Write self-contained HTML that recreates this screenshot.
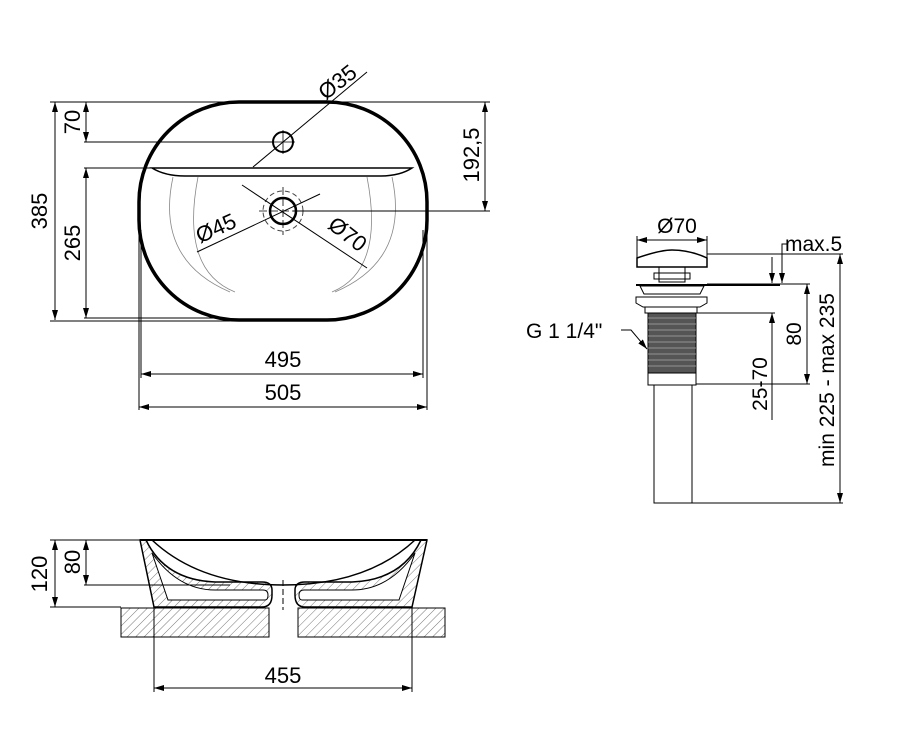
<!DOCTYPE html>
<html><head><meta charset="utf-8"><style>
html,body{margin:0;padding:0;background:#fff;}
svg{display:block;font-family:"Liberation Sans",sans-serif;}
</style></head><body>
<svg width="897" height="729" viewBox="0 0 897 729" xmlns="http://www.w3.org/2000/svg">
<defs>
<marker id="a" viewBox="0 0 10 6" refX="10" refY="3" markerWidth="10" markerHeight="6" orient="auto-start-reverse" markerUnits="userSpaceOnUse"><path d="M0,0 L10,3 L0,6 Z" fill="#000"/></marker>
<pattern id="h" width="6" height="6" patternUnits="userSpaceOnUse" patternTransform="rotate(45)"><line x1="0" y1="0" x2="0" y2="6" stroke="#555" stroke-width="0.8"/></pattern>
</defs>
<g fill="none" stroke="#000" stroke-width="1">
<rect x="139" y="102" width="288" height="218" rx="100" ry="100" stroke-width="3.5"/>
<path d="M152 168 L412 168 Q400 176 380 176 L185 176 Q165 176 152 168 Z" stroke-width="1.5"/>
<g stroke="#888" stroke-width="0.8">
<path d="M173 177 Q155 260 230 292"/><path d="M198 177 Q180 270 235 292"/>
<path d="M392 177 Q410 260 335 292"/><path d="M367 177 Q385 270 332 292"/>
</g>
<circle cx="283" cy="142" r="10" stroke-width="2"/>
<line x1="271" y1="142" x2="295" y2="142" stroke-width="0.8"/><line x1="283" y1="130" x2="283" y2="154" stroke-width="0.8"/>
<circle cx="283" cy="211" r="13" stroke-width="2.5"/>
<circle cx="283" cy="211" r="20" stroke-dasharray="5,3" stroke="#444"/>
<line x1="283" y1="187" x2="283" y2="235" stroke-dasharray="8,3" stroke-width="0.8"/>
<line x1="259" y1="211" x2="307" y2="211" stroke-dasharray="8,3" stroke-width="0.8"/>
<line x1="367" y1="72" x2="253" y2="167"/>
<line x1="320" y1="194" x2="197" y2="252"/>
<line x1="242" y1="185" x2="367" y2="268"/>
<line x1="50" y1="102" x2="490" y2="102"/>
<line x1="50" y1="321" x2="230" y2="321"/>
<line x1="84" y1="142" x2="273" y2="142"/>
<line x1="84" y1="168" x2="152" y2="168"/>
<line x1="84" y1="318" x2="225" y2="318"/>
<line x1="55" y1="102" x2="55" y2="320" marker-start="url(#a)" marker-end="url(#a)"/>
<line x1="86" y1="102" x2="86" y2="142" marker-start="url(#a)" marker-end="url(#a)"/>
<line x1="86" y1="168" x2="86" y2="318" marker-start="url(#a)" marker-end="url(#a)"/>
<line x1="293" y1="211" x2="490" y2="211"/>
<line x1="485" y1="102" x2="485" y2="211" marker-start="url(#a)" marker-end="url(#a)"/>
<line x1="139" y1="230" x2="139" y2="410"/><line x1="427" y1="230" x2="427" y2="410"/>
<line x1="141" y1="230" x2="141" y2="378"/><line x1="423" y1="230" x2="423" y2="378"/>
<line x1="141" y1="374" x2="423" y2="374" marker-start="url(#a)" marker-end="url(#a)"/>
<line x1="139" y1="407" x2="427" y2="407" marker-start="url(#a)" marker-end="url(#a)"/>
</g>
<g font-size="22" fill="#000">
<text x="283" y="367" text-anchor="middle">495</text>
<text x="283" y="400" text-anchor="middle">505</text>
<text transform="translate(47,211) rotate(-90)" text-anchor="middle">385</text>
<text transform="translate(80,122) rotate(-90)" text-anchor="middle">70</text>
<text transform="translate(80,243) rotate(-90)" text-anchor="middle">265</text>
<text transform="translate(479,155) rotate(-90)" text-anchor="middle">192,5</text>
<text transform="translate(342,88) rotate(-38)" text-anchor="middle">Ø35</text>
<text transform="translate(219,235) rotate(-24)" text-anchor="middle">Ø45</text>
<text transform="translate(343,240) rotate(38)" text-anchor="middle">Ø70</text>
</g>
<g fill="none" stroke="#000" stroke-width="1">
<path d="M637 267 L637 258 Q660 250 672 250 Q690 250 707 258 L707 267 Z" stroke-width="1.5"/>
<rect x="659" y="267" width="26" height="15"/>
<rect x="654" y="273" width="36" height="6"/>
<line x1="636" y1="285" x2="780" y2="285" stroke-width="2"/>
<path d="M640 286 L704 286 L700 294 L644 294 Z"/>
<path d="M636 297 L707 297 L707 303 L700 307 L643 307 L636 303 Z"/>
<rect x="645" y="307" width="52" height="6"/>
<rect x="648" y="313" width="48" height="60" fill="#555"/>
<g stroke="#aaa" stroke-width="0.8">
<line x1="648" y1="318" x2="696" y2="318"/><line x1="648" y1="324" x2="696" y2="324"/><line x1="648" y1="330" x2="696" y2="330"/><line x1="648" y1="336" x2="696" y2="336"/><line x1="648" y1="342" x2="696" y2="342"/><line x1="648" y1="348" x2="696" y2="348"/><line x1="648" y1="354" x2="696" y2="354"/><line x1="648" y1="360" x2="696" y2="360"/><line x1="648" y1="366" x2="696" y2="366"/>
</g>
<rect x="648" y="373" width="48" height="12"/>
<rect x="654" y="385" width="38" height="118"/>
<line x1="637" y1="240" x2="707" y2="240" marker-start="url(#a)" marker-end="url(#a)"/>
<line x1="637" y1="236" x2="637" y2="258"/><line x1="707" y1="236" x2="707" y2="258"/>
<line x1="707" y1="254" x2="843" y2="254"/>
<line x1="707" y1="284" x2="810" y2="284"/>
<line x1="696" y1="313" x2="775" y2="313"/>
<line x1="696" y1="384" x2="810" y2="384"/>
<line x1="692" y1="503" x2="843" y2="503"/>
<line x1="772" y1="257" x2="772" y2="283" marker-end="url(#a)"/>
<line x1="772" y1="313" x2="772" y2="420" marker-start="url(#a)"/>
<polyline points="787,244 782,244 782,283"/>
<line x1="782" y1="262" x2="782" y2="283" marker-end="url(#a)"/>
<line x1="807" y1="284" x2="807" y2="384" marker-start="url(#a)" marker-end="url(#a)"/>
<line x1="840" y1="254" x2="840" y2="503" marker-start="url(#a)" marker-end="url(#a)"/>
<polyline points="621,330 631,330 647,349" marker-end="url(#a)"/>
</g>
<g font-size="21" fill="#000">
<text x="677" y="233" text-anchor="middle">Ø70</text>
<text x="785" y="251">max.5</text>
<text x="526" y="338">G 1 1/4"</text>
<text transform="translate(801,334) rotate(-90)" text-anchor="middle">80</text>
<text transform="translate(767,384) rotate(-90)" text-anchor="middle">25-70</text>
<text transform="translate(834,380) rotate(-90)" text-anchor="middle">min 225 - max 235</text>
</g>
<g stroke="#000" stroke-width="1">
<rect x="121" y="608" width="148" height="29" fill="url(#h)"/>
<rect x="298" y="608" width="147" height="29" fill="url(#h)"/>
<path d="M140 540 L154 607 L262 607 Q272 607 272 595 L272 590 Q272 582 262 582 L215 582 Q165 580 146 540 Z" fill="url(#h)" stroke-width="1.5"/>
<path d="M427 540 L412 607 L305 607 Q295 607 295 595 L295 590 Q295 582 305 582 L352 582 Q402 580 421 540 Z" fill="url(#h)" stroke-width="1.5"/>
<path d="M152 553 L168 600 L265 600 Q268 600 268 595 Q268 590 263 590 L215 590 Q178 590 152 553 Z" fill="#fff"/>
<path d="M415 553 L399 600 L302 600 Q299 600 299 595 Q299 590 304 590 L352 590 Q389 590 415 553 Z" fill="#fff"/>
<path d="M152 540 Q200 585 283 585 Q367 585 415 540" fill="none" stroke-width="1.5"/>
<line x1="140" y1="540" x2="427" y2="540" stroke-width="2"/>
<line x1="283" y1="580" x2="283" y2="610" stroke-dasharray="6,3"/>
<g fill="none">
<line x1="50" y1="540" x2="140" y2="540"/>
<line x1="84" y1="585" x2="230" y2="585"/>
<line x1="50" y1="607" x2="121" y2="607"/>
<line x1="55" y1="540" x2="55" y2="607" marker-start="url(#a)" marker-end="url(#a)"/>
<line x1="86" y1="540" x2="86" y2="585" marker-start="url(#a)" marker-end="url(#a)"/>
<line x1="154" y1="607" x2="154" y2="692"/><line x1="412" y1="607" x2="412" y2="692"/>
<line x1="154" y1="688" x2="412" y2="688" marker-start="url(#a)" marker-end="url(#a)"/>
</g>
</g>
<g font-size="22" fill="#000">
<text x="283" y="683" text-anchor="middle">455</text>
<text transform="translate(47,574) rotate(-90)" text-anchor="middle">120</text>
<text transform="translate(80,562) rotate(-90)" text-anchor="middle">80</text>
</g>
</svg>
</body></html>
